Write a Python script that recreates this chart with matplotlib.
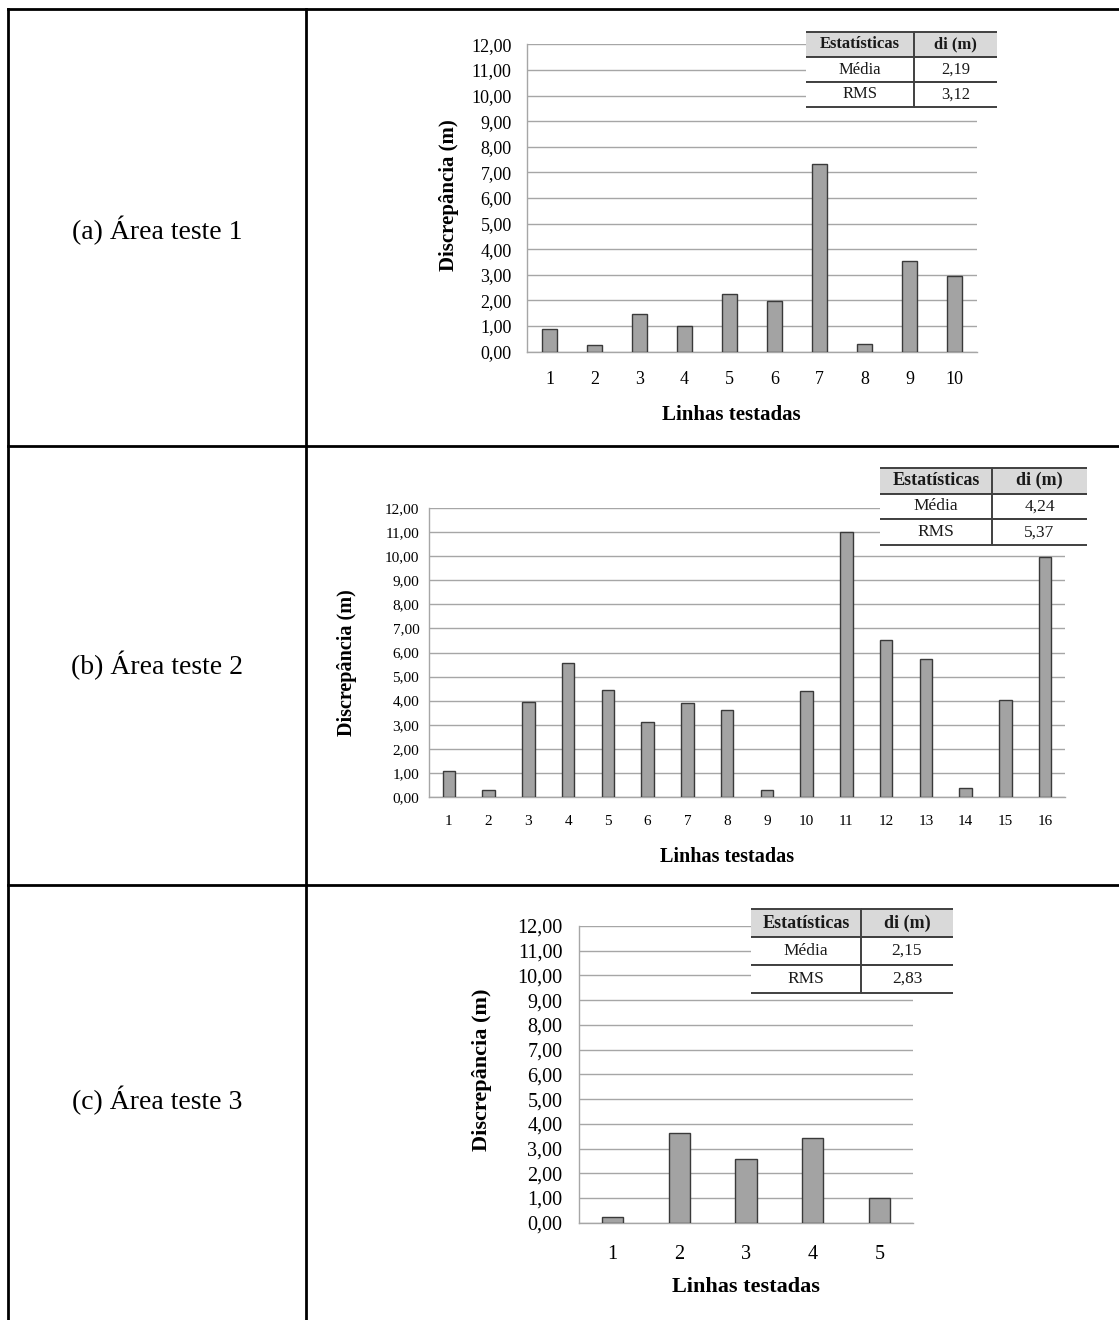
import matplotlib
matplotlib.use("Agg")
import matplotlib.pyplot as plt
from matplotlib.lines import Line2D
from matplotlib.patches import Rectangle

plt.rcParams["font.family"] = ["Liberation Serif", "DejaVu Serif"]

W, H = 1119, 1320

# Discrepancy per tested line, one list per test area
area_names = ["(a) Área teste 1", "(b) Área teste 2", "(c) Área teste 3"]
disc_a = [0.90, 0.25, 1.47, 1.02, 2.26, 1.96, 7.33, 0.29, 3.55, 2.97]
disc_b = [1.07, 0.30, 3.94, 5.56, 4.46, 3.10, 3.90, 3.63, 0.28, 4.42,
          10.99, 6.52, 5.73, 0.36, 4.01, 9.95]
disc_c = [0.22, 3.61, 2.58, 3.42, 1.00]

# Summary statistics printed in the small tables
stat_rows = ["Média", "RMS"]
stat_head = ["Estatísticas", "di (m)"]
stats_a = ["2,19", "3,12"]
stats_b = ["4,24", "5,37"]
stats_c = ["2,15", "2,83"]

y_ticks = list(range(0, 13))

GRID = "#a6a6a6"
BAR = "#a3a3a3"
EDGE = "#3a3a3a"
HEAD = "#d9d9d9"


def px_axes(fig, x0, y0, x1, y1, **kw):
    """Add an axes given by pixel box (top-left origin)."""
    return fig.add_axes([x0 / W, 1 - y1 / H, (x1 - x0) / W, (y1 - y0) / H], **kw)


def bar_panel(fig, box, values, tick_fs, ypad, xpad, lab_fs, xlab_xy, ylab_xy):
    x0, y0, x1, y1 = box
    ax = px_axes(fig, x0, y0, x1, y1)
    n = len(values)
    pos = list(range(n))
    ax.bar(pos, values, width=0.32, color=BAR, edgecolor=EDGE, linewidth=1.0,
           zorder=3)
    ax.set_xlim(-0.5, n - 0.5)
    ax.set_ylim(0, 12)
    ax.set_yticks(y_ticks)
    ax.set_yticklabels([f"{v:.2f}".replace(".", ",") for v in y_ticks],
                       fontsize=tick_fs)
    ax.set_xticks(pos)
    ax.set_xticklabels([str(i + 1) for i in pos], fontsize=tick_fs)
    ax.tick_params(axis="y", length=0, pad=ypad)
    ax.tick_params(axis="x", length=0, pad=xpad)
    ax.grid(axis="y", color=GRID, linewidth=1.0, zorder=0)
    for s in ("top", "right"):
        ax.spines[s].set_visible(False)
    for s in ("left", "bottom"):
        ax.spines[s].set_color(GRID)
        ax.spines[s].set_linewidth(1.0)
    ax.set_xlabel("Linhas testadas", fontsize=lab_fs, fontweight="bold")
    ax.set_ylabel("Discrepância (m)", fontsize=lab_fs, fontweight="bold")
    bw, bh = x1 - x0, y1 - y0
    ax.xaxis.set_label_coords((xlab_xy[0] - x0) / bw, (y1 - xlab_xy[1]) / bh)
    ax.xaxis.label.set_va("center")
    ax.yaxis.set_label_coords((ylab_xy[0] - x0) / bw, (y1 - ylab_xy[1]) / bh)
    ax.yaxis.label.set_va("center")
    return ax


def stat_table(fig, box, values, split, head_fs, body_fs):
    x0, y0, x1, y1 = box
    ax = px_axes(fig, x0, y0, x1, y1)
    # keep the white background so the grid behind is covered
    ax.set_facecolor("white")
    ax.set_xticks([])
    ax.set_yticks([])
    for s in ax.spines.values():
        s.set_visible(False)
    cells = [stat_head] + [[r, v] for r, v in zip(stat_rows, values)]
    c1 = (split - x0) / (x1 - x0)
    tb = ax.table(cellText=cells, cellLoc="center", bbox=[0, 0, 1, 1],
                  colWidths=[c1, 1 - c1])
    tb.auto_set_font_size(False)
    tb.set_zorder(2)
    for (r, c), cell in tb.get_celld().items():
        cell.visible_edges = "BTR" if c == 0 else "BT"
        cell.set_edgecolor("#404040")
        cell.set_linewidth(1.4)
        txt = cell.get_text()
        if r == 0:
            cell.set_facecolor(HEAD)
            txt.set_fontweight("bold")
            txt.set_fontsize(head_fs)
        else:
            cell.set_facecolor("white")
            txt.set_fontsize(body_fs)
        txt.set_color("#1a1a1a")
    # header shading for the second column (open cell paths are not filled)
    ax.add_patch(Rectangle((c1, 2 / 3), 1 - c1, 1 / 3, transform=ax.transAxes,
                           facecolor=HEAD, edgecolor="none", zorder=1))
    ax.set_xlim(0, 1)
    ax.set_ylim(0, 1)
    return ax


fig = plt.figure(figsize=(W / 100, H / 100), dpi=100)
fig.patch.set_facecolor("white")

# outer layout frame
frame = fig.add_axes([0, 0, 1, 1])
frame.set_xlim(0, W)
frame.set_ylim(H, 0)
frame.axis("off")
lw = 2.0
frame.add_line(Line2D([8, W], [9, 9], color="black", lw=lw))
frame.add_line(Line2D([8, W], [446, 446], color="black", lw=lw))
frame.add_line(Line2D([8, W], [885, 885], color="black", lw=lw))
frame.add_line(Line2D([8, 8], [9, H], color="black", lw=lw))
frame.add_line(Line2D([306, 306], [9, H], color="black", lw=lw))

for name, yc in zip(area_names, [230, 665, 1100]):
    frame.text(157, yc, name, fontsize=20, ha="center", va="center")

bar_panel(fig, (527, 44.3, 977, 351.7), disc_a, 13, 11, 14, 15,
          (731, 415), (449, 195))
stat_table(fig, (806, 32, 997, 107), stats_a, 914, 12, 12)

bar_panel(fig, (429, 508, 1065, 797), disc_b, 11, 7, 13, 14.5,
          (727, 857), (347, 663))
stat_table(fig, (880, 468, 1087, 545), stats_b, 992, 13, 12.5)

bar_panel(fig, (579, 926, 913, 1222.7), disc_c, 14.5, 12, 16, 16,
          (746, 1287), (482, 1070))
stat_table(fig, (751, 909, 953, 993), stats_c, 861, 13, 12.5)

fig.savefig("out.png", dpi=100)
